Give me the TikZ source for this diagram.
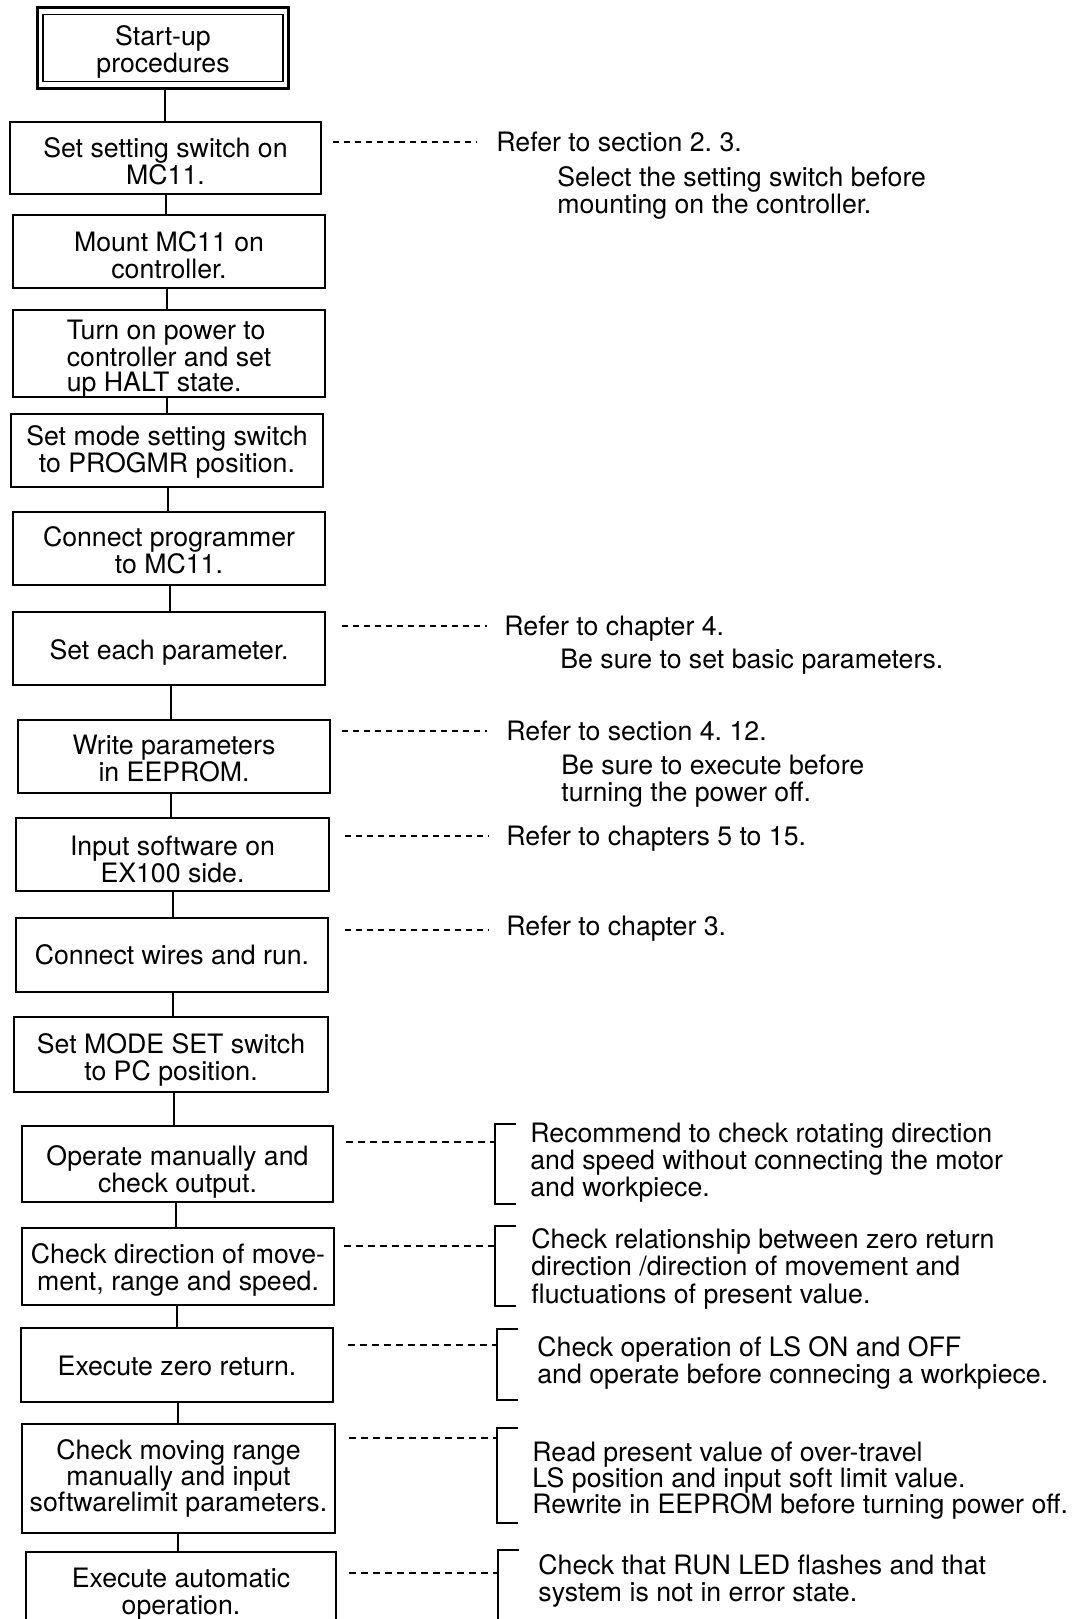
\documentclass[tikz,border=0pt]{standalone}
\usepackage{fontspec}
\setmainfont{TeX Gyre Heros}
\usetikzlibrary{calc}
\frenchspacing
\newcommand\flowfont{\fontsize{13.35pt}{13.5pt}\selectfont}
% how far (in pixel units) the text of a step box sits below the box centre
\newcommand\textdrop{4}
\tikzset{drop/.code={\renewcommand\textdrop{#1}}}
% a step box given by its corners (x1,y1) (x2,y2) in pixel units
\newcommand\stepnode[7]{%
  \node[stepbox,minimum width={(#4-#2)*0.5pt},minimum height={(#5-#3)*0.5pt},#6]
    (#1) at ({(#2+#4)/2},{(#3+#5)/2}) {\rule{0pt}{\dimexpr9.8pt+\textdrop pt\relax}#7};}
\begin{document}
\begin{tikzpicture}[x=0.5pt,y=-0.5pt,
  every node/.style={font=\flowfont},
  stepbox/.style={draw,line width=1.3pt,inner sep=0pt,align=center},
  link/.style={line width=0.85pt},
  leader/.style={line width=0.6pt,dash pattern=on 3pt off 2.5pt},
  leaderb/.style={line width=0.6pt,dash pattern=on 3.5pt off 2.5pt},
  brace/.style={line width=0.7pt},
  note/.style={anchor=base west,inner sep=0pt}]
\useasboundingbox (0,0) rectangle (1083,1619);
\clip (0,0) rectangle (1083,1619);
\fill[white] (0,0) rectangle (1083,1619);

% ---- flow of steps ----
\stepnode{start}{37.5}{7.5}{288.5}{88.5}{line width=1.5pt,drop=4}{Start-up\\procedures}
\draw[line width=0.85pt] ($(start.north west)+(6.7,8.5)$) rectangle ($(start.south east)+(-6.7,-8.5)$);

\stepnode{setsw}{10}{122}{321}{194}{drop=3}{Set setting switch on\\MC11.}
\stepnode{mount}{13}{215}{325}{288}{drop=4}{Mount MC11 on\\controller.}
\stepnode{turnon}{13}{313}{325}{394}{drop=5,align=left,font=\fontsize{13.35pt}{12.2pt}\selectfont}{Turn on power to\\controller and set\\up HALT state.}
\stepnode{setmode}{11}{414}{323}{487}{drop=2}{Set mode setting switch\\to PROGMR position.}
\stepnode{connprog}{13}{512}{325}{585}{drop=2}{Connect programmer\\to MC11.}
\stepnode{seteach}{13}{612}{325}{685}{drop=4}{Set each parameter.}
\stepnode{writeee}{18}{720}{330}{793}{drop=2}{Write parameters\\in EEPROM.}
\stepnode{input}{16}{818}{329}{891}{drop=5}{Input software on\\EX100 side.}
\stepnode{wires}{16}{918}{328}{992}{drop=0}{Connect wires and run.}
\stepnode{modeset}{14}{1017}{328}{1092}{drop=6}{Set MODE SET switch\\to PC position.}
\stepnode{operate}{22}{1126}{333}{1202}{drop=8}{Operate manually and\\check output.}
\stepnode{checkdir}{22}{1228}{334}{1305}{drop=4}{Check direction of move-\\ment, range and speed.}
\stepnode{zero}{21}{1328}{333}{1402}{drop=1}{Execute zero return.}
\stepnode{moving}{22}{1424}{335}{1533}{drop=0,font=\fontsize{13.35pt}{12.9pt}\selectfont}{Check moving range\\manually and input\\softwarelimit parameters.}
\stepnode{auto}{26}{1552}{336}{1630}{drop=3}{Execute automatic\\operation.}

\foreach \a/\b/\x in {start/setsw/165, setsw/mount/166, mount/turnon/167,
    turnon/setmode/167, setmode/connprog/168, connprog/seteach/170,
    seteach/writeee/171, writeee/input/171, input/wires/173, wires/modeset/173,
    modeset/operate/174, operate/checkdir/176, checkdir/zero/177,
    zero/moving/178, moving/auto/178}{
  \coordinate (cx) at (\x,0);
  \draw[link] (\a.south -| cx) -- (\b.north -| cx);
}

% ---- references ----
\coordinate (dA) at (477,142);
\node[note] (refA) at (496,151.5) {Refer to section 2. 3.};
\node[note] (selA) at (557,186) {Select the setting switch before};
\node[note] (monA) at (557,213) {mounting on the controller.};
\draw[leader] ($(setsw.east |- dA)+(11,0)$) -- (dA);

\coordinate (dB) at (487,626);
\node[note] (refB) at (504,635.5) {Refer to chapter 4.};
\node[note] (beB) at (560,668.5) {Be sure to set basic parameters.};
\draw[leader] ($(seteach.east |- dB)+(16,0)$) -- (dB);

\coordinate (dC) at (487,731);
\node[note] (refC) at (506,740.5) {Refer to section 4. 12.};
\node[note] (beC) at (561,774.5) {Be sure to execute before};
\node[note] (turnC) at (561,801.5) {turning the power off.};
\draw[leader] ($(writeee.east |- dC)+(11,0)$) -- (dC);

\coordinate (dD) at (489,836);
\node[note] (refD) at (506,845.5) {Refer to chapters 5 to 15.};
\draw[leader] ($(input.east |- dD)+(15,0)$) -- (dD);

\coordinate (dE) at (489,930);
\node[note] (refE) at (506,935) {Refer to chapter 3.};
\draw[leader] ($(wires.east |- dE)+(16,0)$) -- (dE);

% ---- bracketed remarks ----
\draw[brace] (516,1124) -- (495,1124) -- (495,1204) -- (516,1204);
\coordinate (bF) at (495,1142);
\draw[leaderb] ($(operate.east |- bF)+(12,0)$) -- (bF);
\node[note] (fA) at (530,1142.6) {Recommend to check rotating direction};
\node[note] (fB) at (530,1169.6) {and speed without connecting the motor};
\node[note] (fC) at (530,1196.6) {and workpiece.};

\draw[brace] (516,1226) -- (495,1226) -- (495,1306) -- (516,1306);
\coordinate (bG) at (495,1246);
\draw[leaderb] ($(checkdir.east |- bG)+(9,0)$) -- (bG);
\node[note] (gA) at (531,1248.6) {Check relationship between zero return};
\node[note] (gB) at (531,1275.6) {direction /direction of movement and};
\node[note] (gC) at (531,1303.6) {fluctuations of present value.};

\draw[brace] (518,1329) -- (497,1329) -- (497,1400) -- (518,1400);
\coordinate (bH) at (497,1345);
\draw[leaderb] ($(zero.east |- bH)+(14,0)$) -- (bH);
\node[note] (hA) at (537,1356.6) {Check operation of LS ON and OFF};
\node[note] (hB) at (537,1383.6) {and operate before connecing a workpiece.};

\draw[brace] (518,1428) -- (497,1428) -- (497,1523) -- (518,1523);
\coordinate (bI) at (497,1438);
\draw[leaderb] ($(moving.east |- bI)+(13,0)$) -- (bI);
\node[note] (iA) at (532,1461.6) {Read present value of over-travel};
\node[note] (iB) at (532,1487.6) {LS position and input soft limit value.};
\node[note] (iC) at (532,1513.6) {Rewrite in EEPROM before turning power off.};

\draw[brace] (519,1550) -- (498,1550) -- (498,1640);
\coordinate (bJ) at (498,1573);
\draw[leaderb] ($(auto.east |- bJ)+(12,0)$) -- (bJ);
\node[note] (jA) at (538,1574.6) {Check that RUN LED flashes and that};
\node[note] (jB) at (538,1601.6) {system is not in error state.};
\end{tikzpicture}
\end{document}
